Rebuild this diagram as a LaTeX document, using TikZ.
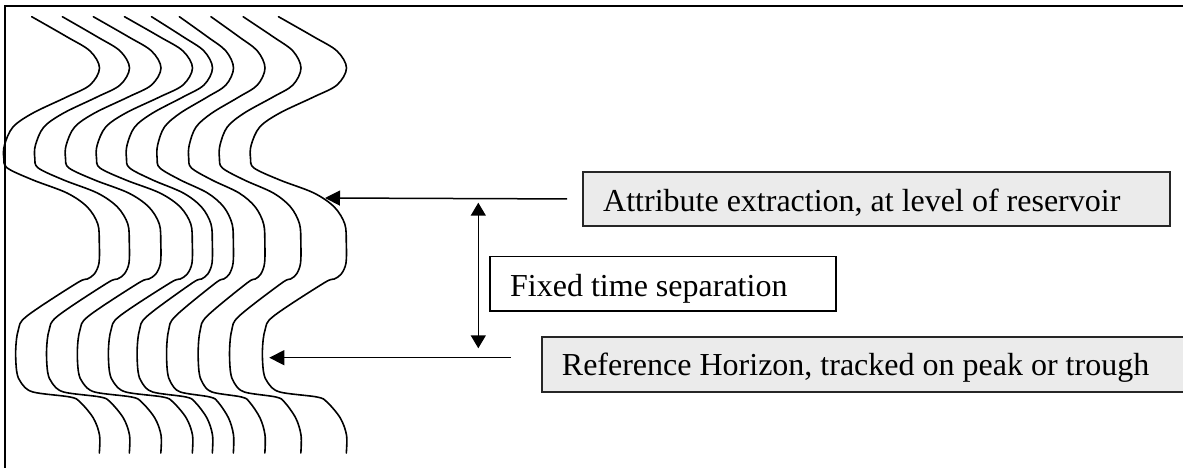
\documentclass[tikz,border=0pt]{standalone}
\usepackage{fontspec}
\setmainfont{Liberation Serif}
\usetikzlibrary{arrows.meta}
\begin{document}
\begin{tikzpicture}[x=1pt,y=-1pt,
  trace/.style={line width=1.6pt, line join=round, line cap=round},
  frameline/.style={line width=2.2pt},
  shadedbox/.style={draw=black!85, line width=2pt, fill=black!8, anchor=north west, inner sep=0pt},
  plainbox/.style={draw=black, line width=1.5pt, fill=white, anchor=north west, inner sep=0pt},
  boxtext/.style={anchor=base west, inner sep=0pt, font=\fontsize{32}{38}\selectfont},
  pointer/.style={line width=1.5pt, -{Triangle[length=15pt,width=15pt]}},
  twoway/.style={line width=1.5pt, {Triangle[length=13pt,width=15pt]}-{Triangle[length=13pt,width=15pt]}},
  ]
\clip (0,0) rectangle (1183,468);
\fill[white] (0,0) rectangle (1183,468);
% frame (top and left edges)
\draw[frameline] (1195,6) -- (5,6) -- (5,480);
% seismic traces
\foreach \L/\R in {3.3/99.5, 34.3/129.5, 65/161, 96/192.5, 126/212.5, 156.7/233.5, 188.3/265, 219/301, 250/346.5}{
  \pgfmathsetmacro{\k}{(\R-\L)/96.2}
  \begin{scope}[xshift=\L pt, xscale=\k]
    \draw[trace] plot[smooth, tension=0.55] coordinates {
      (28.4,16.7) (63.4,36.7) (86.7,51) (96.2,68) (86.7,85) (63.4,97)
      (29.7,113) (9.7,127) (1.2,145) (0.5,158) (4,168) (29.7,180)
      (63.7,193) (84,207) (94.5,224) (96,243) (95.7,263) (91,274)
      (84,279) (73.7,283) (23.7,316) (15,330) (12.4,350) (13.5,372)
      (18,383) (29.7,392) (66.7,397) (76.7,402) (90,418) (96.2,435) (96,453)};
  \end{scope}
}
% boxes
\node[shadedbox, minimum width=587pt, minimum height=54pt] (b1) at (581.7,171) {};
\node[boxtext] (t1) at (603,211.7) {Attribute extraction, at level of reservoir};
\node[plainbox, minimum width=346pt, minimum height=54.3pt] (b2) at (489,255.7) {};
\node[boxtext] (t2) at (510,296) {Fixed time separation};
\node[shadedbox, minimum width=660pt, minimum height=54.5pt] (b3) at (540.7,336) {};
\node[boxtext] (t3) at (561.7,375) {Reference Horizon, tracked on peak or trough};
% arrow targets
\coordinate (tip1) at (325,198);
\coordinate (tip2) at (269.3,357.7);
\coordinate (sepTop) at (478.3,202.7);
\coordinate (sepBot) at (478.3,348.3);
% connectors
\draw[pointer, shorten <=14.7pt] (b1.west) -- (tip1);
\draw[pointer, shorten <=30pt] (b3.west |- tip2) -- (tip2);
\draw[twoway] (sepTop) -- (sepBot);
\end{tikzpicture}
\end{document}
